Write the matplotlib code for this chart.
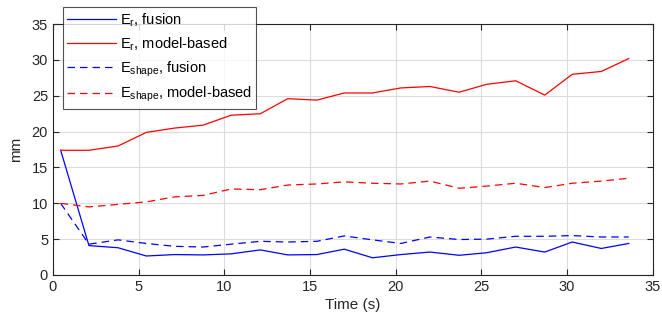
# Import libraries
import matplotlib
matplotlib.use("Agg")
import matplotlib.pyplot as plt

plt.rcParams['font.family'] = ['Liberation Sans', 'DejaVu Sans']
plt.rcParams['mathtext.fontset'] = 'custom'
plt.rcParams['mathtext.rm'] = 'Liberation Sans'
plt.rcParams['mathtext.default'] = 'regular'

# data
time = [0.45, 2.1, 3.8, 5.45, 7.1, 8.75, 10.4, 12.1, 13.7, 15.4, 17.0,
        18.65, 20.3, 22.0, 23.7, 25.3, 27.0, 28.7, 30.3, 32.0, 33.6]
er_fusion = [17.4, 4.1, 3.8, 2.65, 2.85, 2.8, 2.95, 3.5, 2.8, 2.85, 3.6,
             2.4, 2.85, 3.2, 2.75, 3.1, 3.9, 3.2, 4.6, 3.7, 4.4]
er_model = [17.4, 17.4, 18.0, 19.9, 20.5, 20.9, 22.3, 22.5, 24.6, 24.4, 25.4,
            25.4, 26.1, 26.3, 25.5, 26.6, 27.1, 25.1, 28.0, 28.4, 30.2]
eshape_fusion = [10.0, 4.3, 4.9, 4.4, 4.0, 3.9, 4.3, 4.7, 4.6, 4.7, 5.45,
                 4.9, 4.4, 5.3, 4.95, 5.0, 5.4, 5.4, 5.5, 5.3, 5.3]
eshape_model = [10.0, 9.5, 9.85, 10.2, 10.9, 11.1, 12.0, 11.9, 12.55, 12.7, 13.0,
                12.8, 12.7, 13.1, 12.1, 12.4, 12.8, 12.2, 12.8, 13.1, 13.5]

labels = [r'$E_r$, fusion', r'$E_r$, model-based',
          r'$E_{shape}$, fusion', r'$E_{shape}$, model-based']

fig = plt.figure(figsize=(6.62, 3.22), dpi=100)
ax = fig.add_axes([0.080, 0.146, 0.906, 0.779])

lw = 0.9
ax.plot(time, er_fusion, color='b', lw=lw, label=labels[0])
ax.plot(time, er_model, color='r', lw=lw, label=labels[1])
ax.plot(time, eshape_fusion, color='b', lw=lw, ls=(0, (6, 4)), label=labels[2])
ax.plot(time, eshape_model, color='r', lw=lw, ls=(0, (6, 4)), label=labels[3])

ax.set_xlim(0, 35)
ax.set_ylim(0, 35)
ax.set_xticks(range(0, 36, 5))
ax.set_yticks(range(0, 36, 5))
ax.grid(True, color='#dcdcdc', lw=0.8)
ax.set_axisbelow(True)
ax.tick_params(direction='in', top=True, right=True, labelsize=10.5,
               colors='#262626', length=4)
for s in ax.spines.values():
    s.set_color('#262626')
    s.set_linewidth(0.8)
ax.set_xlabel('Time (s)', fontsize=11, color='#262626', labelpad=3)
ax.set_ylabel('mm', fontsize=11, color='#262626', labelpad=6)

leg = fig.legend(loc='upper left', bbox_to_anchor=(63 / 662, 1 - 7 / 322),
                 fontsize=10.5, frameon=True, fancybox=False,
                 edgecolor='#262626', handlelength=3.3, handletextpad=0.3,
                 borderpad=0.3, labelspacing=0.45, borderaxespad=0)
leg.get_frame().set_linewidth(0.8)

fig.savefig('out.png', dpi=100)
